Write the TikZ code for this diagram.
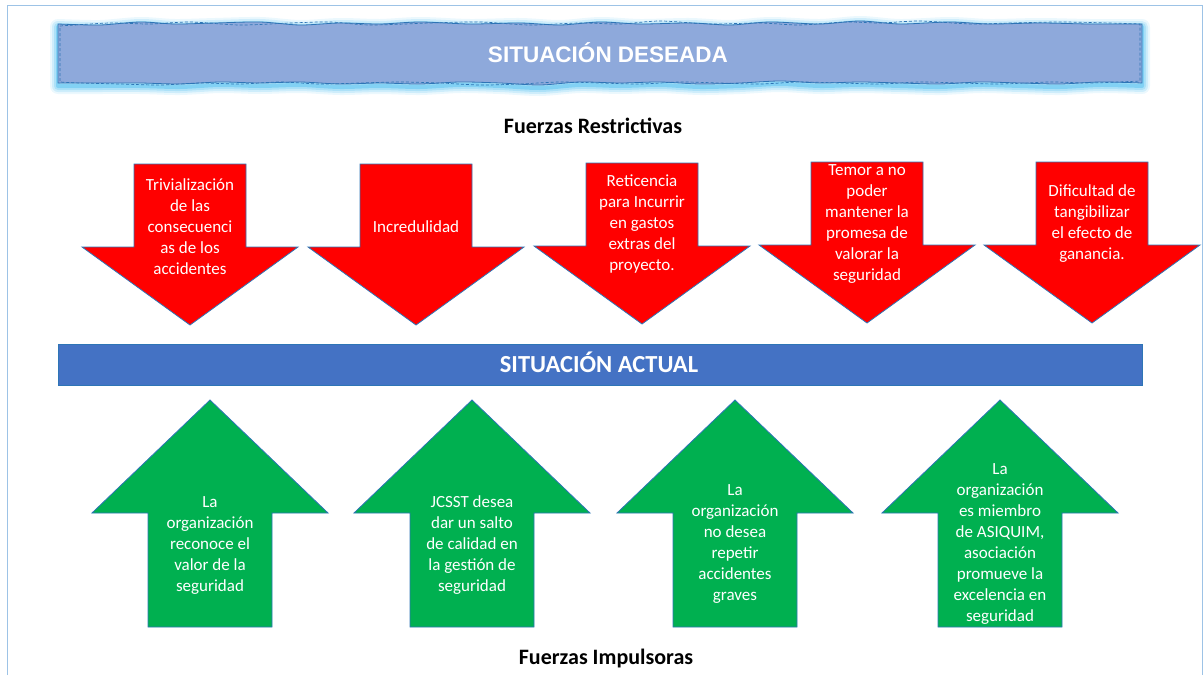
\documentclass[tikz,border=0pt]{standalone}
\usepackage{fontspec}
\setmainfont{Carlito}
\newfontfamily\bannerfont{Liberation Sans}
\definecolor{frameblue}{HTML}{9DC3E6}
\definecolor{edgeblue}{HTML}{2E75B6}
\definecolor{bannerfill}{HTML}{8EA9DB}
\definecolor{glowblue}{HTML}{00A2E8}
\definecolor{barblue}{HTML}{4472C4}
\definecolor{forcered}{HTML}{FF0000}
\definecolor{forcegreen}{HTML}{00B050}
\tikzset{
  arrowtext/.style={text=white, align=center, font=\fontsize{17}{21}\selectfont, inner sep=0pt},
  heading/.style={font=\fontsize{22}{26}\selectfont\bfseries, text=black, anchor=base, inner sep=0pt},
  redarrow/.pic={
    \draw[fill=forcered, draw=edgeblue, line width=0.8pt, line join=miter]
      (-56,0) -- (56,0) -- (56,83) -- (108,83) -- (0,161) -- (-108,83) -- (-56,83) -- cycle;
  },
  greenarrow/.pic={
    \draw[fill=forcegreen, draw=edgeblue, line width=0.8pt, line join=miter]
      (0,0) -- (118,113) -- (62,113) -- (62,227) -- (-62,227) -- (-62,113) -- (-118,113) -- cycle;
  }
}
\begin{document}
\begin{tikzpicture}[x=1pt, y=-1pt]
\useasboundingbox (0,0) rectangle (1204,675);
% page frame, open at the bottom
\draw[frameblue, line width=1pt] (7,675) -- (7,5) -- (1202,5) -- (1202,675);

% desired-state banner with ragged edges and soft glow
\def\bannerpath{plot[smooth] coordinates {(58,24) (100,25) (140,22) (175,24) (215,23) (260,22) (300,25) (340,23) (380,24) (420,22) (470,24) (520,23) (560,25) (600,22) (640,24) (690,23) (730,25) (770,22) (820,24) (860,21) (900,24) (950,22) (990,24) (1040,23) (1090,24) (1142,24)}
  -- plot[smooth] coordinates {(1142,83) (1100,82) (1060,84) (1020,83) (980,82) (940,84) (900,83) (860,82) (820,83) (780,81) (740,83) (700,84) (660,82) (620,83) (580,82) (540,85) (500,83) (460,82) (420,84) (380,83) (340,84) (300,82) (260,83) (220,82) (180,84) (140,83) (100,83) (58,83)} -- cycle}
\begin{scope}[yshift=-3pt]
\foreach \w/\o in {16/0.08, 12/0.12, 8/0.16, 4/0.25}
  \draw[glowblue, line width=\w pt, opacity=\o, line join=round] \bannerpath;
\end{scope}
\fill[bannerfill] \bannerpath;
\draw[edgeblue, line width=0.8pt] \bannerpath;
\draw[edgeblue, line width=0.7pt, dashed, dash pattern=on 3pt off 2pt]
  plot[smooth] coordinates {(60,26) (110,23) (150,24) (190,22) (240,25) (290,23) (330,22) (370,25) (430,23) (480,22) (530,25) (580,23) (620,24) (660,21) (710,24) (760,23) (800,25) (845,22) (880,23) (920,21) (970,24) (1010,23) (1060,22) (1110,23) (1140,24)}
  -- plot[smooth] coordinates {(1140,81) (1090,83) (1050,82) (1000,84) (960,83) (920,82) (880,84) (840,83) (800,82) (760,84) (720,83) (680,82) (640,84) (600,83) (560,82) (520,84) (480,85) (440,83) (400,82) (360,83) (320,84) (280,82) (240,84) (200,83) (160,85) (120,84) (80,83) (60,82)} -- cycle;
\node[text=white, font=\bannerfont\fontsize{22.5}{26}\selectfont\bfseries, anchor=base, inner sep=0pt] (deseada) at (608,62) {SITUACIÓN DESEADA};

\node[heading] (restrictivas) at (593,133) {Fuerzas Restrictivas};

% restraining forces
\pic at (190,164) {redarrow};
\pic at (416,164) {redarrow};
\pic at (642,163) {redarrow};
\pic at (867,162) {redarrow};
\pic at (1092,162) {redarrow};
\node[arrowtext] (r1) at (190,227) {Trivialización\\de las\\consecuenci\\as de los\\accidentes};
\node[arrowtext] (r2) at (416,227) {Incredulidad};
\node[arrowtext] (r3) at (642,224) {Reticencia\\para Incurrir\\en gastos\\extras del\\proyecto.};
\node[arrowtext] (r4) at (867,224) {Temor a no\\poder\\mantener la\\promesa de\\valorar la\\seguridad};
\node[arrowtext] (r5) at (1092,224) {Dificultad de\\tangibilizar\\el efecto de\\ganancia.};

% current-state bar
\draw[fill=barblue, draw=edgeblue, line width=0.8pt] (58,344) rectangle (1142,385);
\node[text=white, font=\fontsize{24.5}{28}\selectfont\bfseries, anchor=base, inner sep=0pt] (actual) at (599,372) {SITUACIÓN ACTUAL};

% driving forces
\pic at (210,400) {greenarrow};
\pic at (472,400) {greenarrow};
\pic at (735,400) {greenarrow};
\pic at (1000,400) {greenarrow};
\node[arrowtext] (g1) at (210,545) {La\\organización\\reconoce el\\valor de la\\seguridad};
\node[arrowtext] (g2) at (472,545) {JCSST desea\\dar un salto\\de calidad en\\la gestión de\\seguridad};
\node[arrowtext] (g3) at (735,544) {La\\organización\\no desea\\repetir\\accidentes\\graves};
\node[arrowtext] (g4) at (1000,544) {La\\organización\\es miembro\\de ASIQUIM,\\asociación\\promueve la\\excelencia en\\seguridad};

\node[heading] (impulsoras) at (606,664) {Fuerzas Impulsoras};
\end{tikzpicture}
\end{document}
